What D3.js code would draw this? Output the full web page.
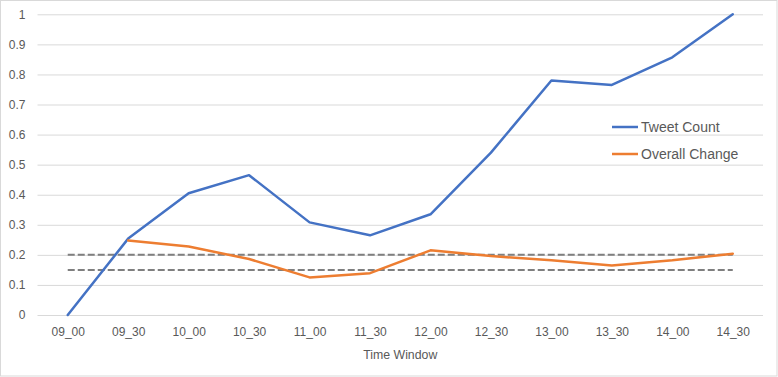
<!DOCTYPE html>
<html>
<head>
<meta charset="utf-8">
<script src="https://cdn.jsdelivr.net/npm/d3@7"></script>
<style>
  html, body { margin: 0; padding: 0; background: #fff; }
  svg { display: block; font-family: "Liberation Sans", Arial, sans-serif; }
</style>
</head>
<body>
<svg id="chart" width="778" height="377"></svg>
<script>
const categories = ["09_00","09_30","10_00","10_30","11_00","11_30","12_00","12_30","13_00","13_30","14_00","14_30"];
const tweetCount = [0, 0.254, 0.405, 0.465, 0.308, 0.265, 0.335, 0.54, 0.78, 0.765, 0.857, 1.0];
const overallChange = [null, 0.248, 0.228, 0.186, 0.125, 0.139, 0.215, 0.196, 0.182, 0.165, 0.182, 0.204];
const thresholds = [0.2, 0.15];
const yTicks = [0, 0.1, 0.2, 0.3, 0.4, 0.5, 0.6, 0.7, 0.8, 0.9, 1];
const seriesNames = ["Tweet Count", "Overall Change"];
const seriesColors = ["#4472C4", "#ED7D31"];
const xTitle = "Time Window";

const svg = d3.select("#chart");
const W = 778, H = 377;
const plot = { left: 37.5, right: 763, top: 14.3, bottom: 315 };

svg.append("rect").attr("x", 0.5).attr("y", 0.5).attr("width", W - 1.5).attr("height", H - 1.5)
  .attr("fill", "#fff").attr("stroke", "#d9d9d9").attr("stroke-width", 1);

const x = d3.scalePoint().domain(categories).range([plot.left, plot.right]).padding(0.5);
const y = d3.scaleLinear().domain([0, 1]).range([plot.bottom, plot.top]);

// gridlines
const yAxis = d3.axisLeft(y).tickValues(yTicks).tickFormat(d => d3.format("~g")(d))
  .tickSize(-(plot.right - plot.left)).tickPadding(12);
const gy = svg.append("g").attr("transform", `translate(${plot.left},0)`).call(yAxis);
gy.select(".domain").remove();
gy.selectAll(".tick line").attr("stroke", "#d9d9d9").attr("stroke-width", 1);
gy.selectAll(".tick text").attr("fill", "#595959").attr("font-size", "12px");

// x axis labels
const xAxis = d3.axisBottom(x).tickSize(0).tickPadding(12);
const gx = svg.append("g").attr("transform", `translate(0,${plot.bottom})`).call(xAxis);
gx.select(".domain").remove();
gx.selectAll(".tick text").attr("fill", "#595959").attr("font-size", "12px");

svg.append("text").attr("x", (plot.left + plot.right) / 2).attr("y", 359)
  .attr("text-anchor", "middle").attr("fill", "#595959").attr("font-size", "12.3px").text(xTitle);

// threshold dashed lines
thresholds.forEach(t => {
  svg.append("line")
    .attr("x1", x(categories[0])).attr("x2", x(categories[categories.length - 1]))
    .attr("y1", y(t)).attr("y2", y(t))
    .attr("stroke", "#7f7f7f").attr("stroke-width", 2).attr("stroke-dasharray", "7,3");
});

const line = d3.line().defined(d => d[1] !== null)
  .x(d => x(d[0])).y(d => y(d[1]));

[tweetCount, overallChange].forEach((vals, i) => {
  svg.append("path")
    .datum(categories.map((c, j) => [c, vals[j]]))
    .attr("d", line).attr("fill", "none")
    .attr("stroke", seriesColors[i]).attr("stroke-width", 2.5)
    .attr("stroke-linejoin", "round").attr("stroke-linecap", "round");
});

// legend
const legY = [127, 154];
seriesNames.forEach((n, i) => {
  svg.append("line").attr("x1", 612).attr("x2", 638).attr("y1", legY[i]).attr("y2", legY[i])
    .attr("stroke", seriesColors[i]).attr("stroke-width", 2.5);
  svg.append("text").attr("x", 641).attr("y", legY[i]).attr("dy", "0.35em")
    .attr("fill", "#595959").attr("font-size", "14px").text(n);
});
</script>
</body>
</html>
